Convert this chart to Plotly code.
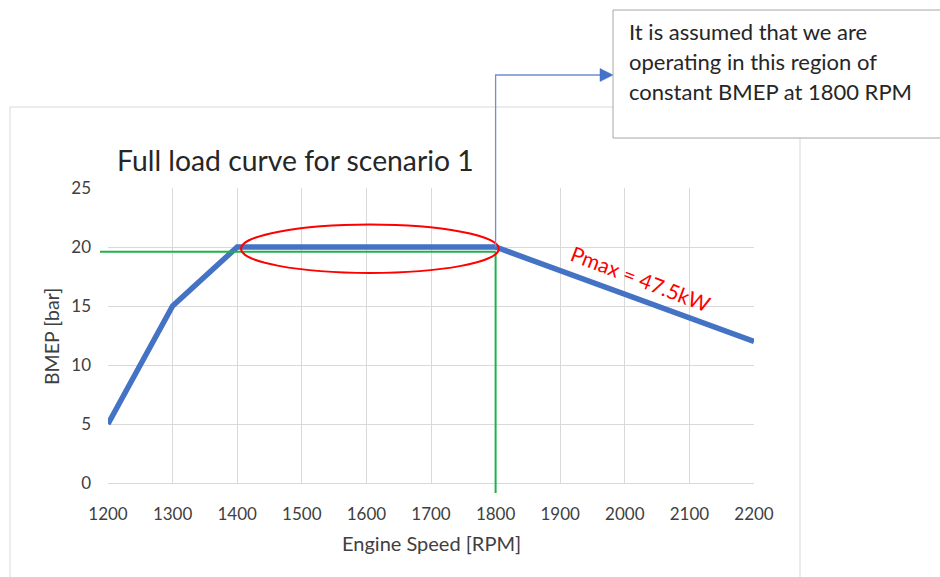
import plotly.graph_objects as go

# ---- data ----
rpm = [1200, 1300, 1400, 1800, 2200]
bmep = [5, 15, 20, 20, 12]
x_ticks = [1200, 1300, 1400, 1500, 1600, 1700, 1800, 1900, 2000, 2100, 2200]
y_ticks = [0, 5, 10, 15, 20, 25]

green_level = 19.6      # horizontal green reference line (bar)
green_rpm = 1800        # vertical green reference line (rpm)
region_rpm = [1406, 1805]     # red ellipse extent
region_bmep = [17.8, 21.9]
pmax_label = "Pmax = 47.5kW"
pmax_pos = (2025, 17.3)
note_lines = ["It is assumed that we are",
              "operating in this region of",
              "constant BMEP at 1800 RPM"]

X0, X1 = 1200, 2200
Y0, Y1 = 0, 25

# plot-area pixel geometry
W, H = 940, 577
PL, PR, PT, PB = 108, 754, 188, 483


def pxx(px):
    return (px - PL) / (PR - PL)


def pxy(py):
    return (PB - py) / (PB - PT)


def dx(x):
    return (x - X0) / (X1 - X0)


def dy(y):
    return (y - Y0) / (Y1 - Y0)


FONT = "Lato"
fig = go.Figure()
fig.add_trace(go.Scatter(x=rpm, y=bmep, mode="lines",
                         line=dict(color="#4472C4", width=5.5),
                         hoverinfo="skip", showlegend=False))

shapes = []
# outer chart frame
shapes.append(dict(type="rect", xref="paper", yref="paper",
                   x0=pxx(10), x1=pxx(800), y0=pxy(600), y1=pxy(107),
                   line=dict(color="#d9d9d9", width=1), fillcolor="rgba(0,0,0,0)",
                   layer="below"))
# green reference lines
shapes.append(dict(type="line", xref="paper", yref="paper",
                   x0=pxx(100), x1=dx(green_rpm), y0=dy(green_level), y1=dy(green_level),
                   line=dict(color="#1fb14a", width=2), layer="above"))
shapes.append(dict(type="line", xref="paper", yref="paper",
                   x0=dx(green_rpm), x1=dx(green_rpm), y0=dy(green_level), y1=pxy(493),
                   line=dict(color="#1fb14a", width=2), layer="above"))
# red ellipse
shapes.append(dict(type="circle", xref="x", yref="y",
                   x0=region_rpm[0], x1=region_rpm[1], y0=region_bmep[0], y1=region_bmep[1],
                   line=dict(color="#ff0000", width=2), layer="above"))
# callout arrow (elbow)
shapes.append(dict(type="path", xref="paper", yref="paper",
                   path=f"M {dx(1800)} {dy(20)} L {dx(1800)} {pxy(75)} L {pxx(602)} {pxy(75)}",
                   line=dict(color="#6d8fd4", width=1.3), layer="above"))
shapes.append(dict(type="path", xref="paper", yref="paper",
                   path=f"M {pxx(600)} {pxy(68.5)} L {pxx(613)} {pxy(75)} L {pxx(600)} {pxy(81.5)} Z",
                   line=dict(color="#4472C4", width=0.5), fillcolor="#4472C4", layer="above"))
# note box
shapes.append(dict(type="rect", xref="paper", yref="paper",
                   x0=pxx(613), x1=pxx(960), y0=pxy(138), y1=pxy(10),
                   line=dict(color="#a6a6a6", width=1), fillcolor="white", layer="above"))

annotations = []
annotations.append(dict(xref="paper", yref="paper", x=pxx(115), y=pxy(160),
                        xanchor="left", yanchor="middle", showarrow=False,
                        text="Full load curve for scenario 1",
                        font=dict(family=FONT, size=28.3, color="#262626")))
annotations.append(dict(xref="paper", yref="paper", x=pxx(431), y=pxy(543),
                        xanchor="center", yanchor="middle", showarrow=False,
                        text="Engine Speed [RPM]",
                        font=dict(family=FONT, size=20, color="#404040")))
annotations.append(dict(xref="paper", yref="paper", x=pxx(51), y=pxy(336),
                        xanchor="center", yanchor="middle", showarrow=False,
                        text="BMEP [bar]", textangle=-90,
                        font=dict(family=FONT, size=19.5, color="#404040")))
annotations.append(dict(xref="x", yref="y", x=pmax_pos[0], y=pmax_pos[1],
                        xanchor="center", yanchor="middle", showarrow=False,
                        text=pmax_label, textangle=21,
                        font=dict(family=FONT, size=21, color="#ff0000")))
for i, line in enumerate(note_lines):
    annotations.append(dict(xref="paper", yref="paper", x=pxx(627), y=pxy(32 + 29.5 * i),
                            xanchor="left", yanchor="middle", showarrow=False,
                            text=line,
                            font=dict(family=FONT, size=22, color="#262626")))

fig.update_layout(
    width=W, height=H,
    margin=dict(l=PL, r=W - PR, t=PT, b=H - PB, pad=0),
    paper_bgcolor="white", plot_bgcolor="white",
    shapes=shapes, annotations=annotations,
    xaxis=dict(range=[X0, X1], tickvals=x_ticks, ticktext=[str(v) for v in x_ticks],
               showgrid=True, gridcolor="#d9d9d9", gridwidth=1,
               showline=True, linecolor="#d9d9d9", linewidth=1,
               zeroline=False, ticks="", ticklabelstandoff=16,
               tickfont=dict(family=FONT, size=17, color="#404040"), fixedrange=True),
    yaxis=dict(range=[Y0, Y1], tickvals=y_ticks, ticktext=[str(v) for v in y_ticks],
               showgrid=True, gridcolor="#d9d9d9", gridwidth=1,
               showline=False, zeroline=False, ticks="", ticklabelstandoff=16,
               tickfont=dict(family=FONT, size=17, color="#404040"), fixedrange=True),
)

fig.write_html("out.html")
